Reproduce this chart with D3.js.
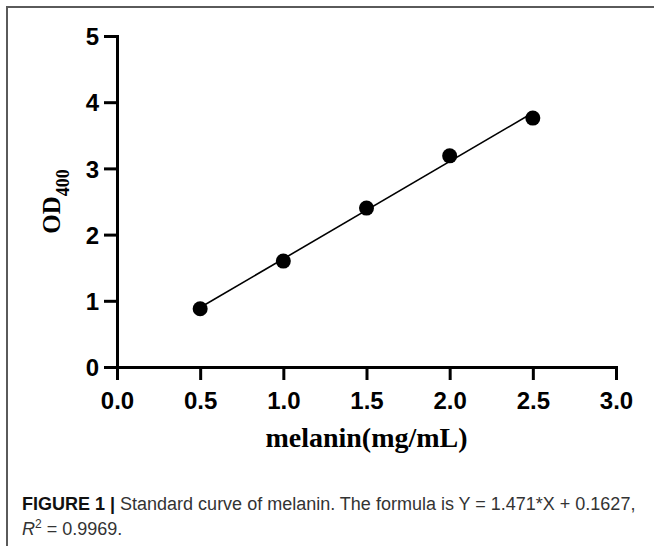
<!DOCTYPE html>
<html>
<head>
<meta charset="utf-8">
<script src="https://cdn.jsdelivr.net/npm/d3@7"></script>
<style>
  body { margin: 0; background: #fff; }
  svg { display: block; }
</style>
</head>
<body>
<div id="chart"></div>
<script>
// melanin standard curve points
var concentrations = [0.5, 1.0, 1.5, 2.0, 2.5];
var odValues = [0.88, 1.60, 2.40, 3.19, 3.76];
var xTicks = [0, 0.5, 1.0, 1.5, 2.0, 2.5, 3.0];
var yTicks = [0, 1, 2, 3, 4, 5];
// fitted line from the caption
var fitSlope = 1.471;
var fitIntercept = 0.1627;

var width = 654, height = 546;

var svg = d3.select("#chart")
  .append("svg")
  .attr("width", width)
  .attr("height", height);

// frame: top and left rules only
svg.append("line").attr("x1", 6).attr("y1", 7).attr("x2", width).attr("y2", 7)
  .attr("stroke", "#5a5a5a").attr("stroke-width", 2);
svg.append("line").attr("x1", 7).attr("y1", 6).attr("x2", 7).attr("y2", height)
  .attr("stroke", "#5a5a5a").attr("stroke-width", 2);

var x = d3.scaleLinear().domain([0, 3]).range([117, 616]);
var y = d3.scaleLinear().domain([0, 5]).range([367, 36]);

var xAxis = svg.append("g")
  .attr("transform", "translate(0," + y(0) + ")")
  .call(d3.axisBottom(x).tickValues(xTicks).tickFormat(d3.format(".1f")).tickSizeInner(13).tickSizeOuter(0).tickPadding(12));

var yAxis = svg.append("g")
  .attr("transform", "translate(" + x(0) + ",0)")
  .call(d3.axisLeft(y).tickValues(yTicks).tickFormat(d3.format("d")).tickSizeInner(13).tickSizeOuter(0).tickPadding(5));

[xAxis, yAxis].forEach(function(g) {
  g.select(".domain").attr("stroke", "#000").attr("stroke-width", 3).attr("stroke-linecap", "square");
  g.selectAll(".tick line").attr("stroke", "#000").attr("stroke-width", 3);
  g.selectAll(".tick text")
    .attr("fill", "#000")
    .style("font-family", "'Liberation Sans', Arial, sans-serif")
    .style("font-weight", "bold")
    .style("font-size", "24px");
});
yAxis.selectAll(".tick text").attr("dy", "0.36em");

// regression line
var line = d3.line()
  .x(function(d) { return x(d); })
  .y(function(d) { return y(fitSlope * d + fitIntercept); });

svg.append("path")
  .datum([concentrations[0], concentrations[concentrations.length - 1]])
  .attr("d", line)
  .attr("fill", "none")
  .attr("stroke", "#000")
  .attr("stroke-width", 1.6);

svg.selectAll("circle.pt")
  .data(concentrations)
  .enter()
  .append("circle")
  .attr("class", "pt")
  .attr("cx", function(d) { return x(d); })
  .attr("cy", function(d, i) { return y(odValues[i]); })
  .attr("r", 7.5)
  .attr("fill", "#000");

// axis titles
svg.append("text")
  .attr("x", (x(0) + x(3)) / 2)
  .attr("y", 447)
  .attr("text-anchor", "middle")
  .style("font-family", "'Liberation Serif', 'Times New Roman', serif")
  .style("font-weight", "bold")
  .style("font-size", "28px")
  .text("melanin(mg/mL)");

var yt = svg.append("text")
  .attr("transform", "translate(60," + y(2.5) + ") rotate(-90)")
  .attr("text-anchor", "middle")
  .style("font-family", "'Liberation Serif', 'Times New Roman', serif")
  .style("font-weight", "bold")
  .style("font-size", "25px");
yt.append("tspan").text("OD");
yt.append("tspan").attr("dy", 9).style("font-size", "18px").text("400");

// caption
var cap1 = svg.append("text")
  .attr("x", 22).attr("y", 510)
  .attr("fill", "#333")
  .style("font-family", "'Liberation Sans', Arial, sans-serif")
  .style("font-size", "18px");
cap1.append("tspan").attr("fill", "#111").style("font-weight", "bold").text("FIGURE 1 | ");
cap1.append("tspan").text("Standard curve of melanin. The formula is Y = 1.471*X + 0.1627,");

var cap2 = svg.append("text")
  .attr("x", 22).attr("y", 535)
  .attr("fill", "#333")
  .style("font-family", "'Liberation Sans', Arial, sans-serif")
  .style("font-size", "18px");
cap2.append("tspan").style("font-style", "italic").text("R");
cap2.append("tspan").attr("dy", -7).style("font-size", "12px").text("2");
cap2.append("tspan").attr("dy", 7).text(" = 0.9969.");
</script>
</body>
</html>
